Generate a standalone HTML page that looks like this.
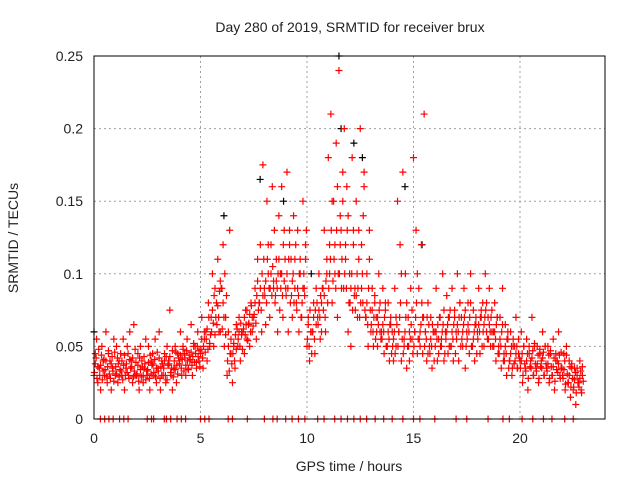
<!DOCTYPE html>
<html><head><meta charset="utf-8"><style>
body{margin:0;background:#fff}
svg{display:block;font-family:"Liberation Sans",sans-serif}
</style></head><body>
<svg id="c" width="640" height="480">
<text x="350" y="32" font-size="14" text-anchor="middle" fill="#222">Day 280 of 2019, SRMTID for receiver brux</text>
<text x="349" y="471" font-size="14" text-anchor="middle" fill="#222">GPS time / hours</text>
<text x="18" y="238" font-size="14" text-anchor="middle" fill="#222" transform="rotate(-90 18 238)">SRMTID / TECUs</text>
<g id="grid"></g><g id="ticks"></g><g id="marks"></g>
<rect x="94" y="56" width="511" height="363" fill="none" stroke="#000" stroke-width="1"/>
</svg>
<script>
const xTicks=[0,5,10,15,20];
const yTicks=[0,0.05,0.1,0.15,0.2,0.25];
const yTickLabels=["0","0.05","0.1","0.15","0.2","0.25"];
const hours=[0,0.25,0.5,0.75,1,1.25,1.5,1.75,2,2.25,2.5,2.75,3,3.25,3.5,3.75,4,4.25,4.5,4.75,5,5.25,5.5,5.75,6,6.25,6.5,6.75,7,7.25,7.5,7.75,8,8.25,8.5,8.75,9,9.25,9.5,9.75,10,10.25,10.5,10.75,11,11.25,11.5,11.75,12,12.25,12.5,12.75,13,13.25,13.5,13.75,14,14.25,14.5,14.75,15,15.25,15.5,15.75,16,16.25,16.5,16.75,17,17.25,17.5,17.75,18,18.25,18.5,18.75,19,19.25,19.5,19.75,20,20.25,20.5,20.75,21,21.25,21.5,21.75,22,22.25,22.5,22.75];
const redValues=[[.03,.045,.055,.025],[.035,.02,.05,.04],[.03,.06,.025,.045],[.04,.02,.035,.055],[.03,.05,.025,.04],[.045,.03,.055,.02],[.035,.05,.03,.06],[.04,.025,.065,.03],[.03,.045,.02,.05],[.04,.025,.035,.055],[.03,.05,.02,.04],[.045,.03,.055,.025],[.035,.06,.02,.04],[.03,.045,.025,.05],[.04,.075,.03,.02],[.035,.05,.025,.045],[.04,.06,.03,.05],[.045,.03,.055,.035],[.04,.065,.03,.05],[.05,.035,.06,.04],[.045,.07,.035,.055],[.06,.04,.08,.05],[.07,.1,.05,.09],[.08,.11,.06,.095],[.09,.12,.05,.07],[.03,.06,.13,.045],[.025,.05,.035,.065],[.05,.07,.04,.06],[.06,.045,.075,.055],[.065,.05,.08,.06],[.07,.09,.055,.11],[.08,.12,.06,.175],[.09,.065,.15,.1],[.07,.12,.16,.09],[.08,.11,.06,.14],[.1,.16,.07,.13],[.09,.17,.06,.12],[.11,.07,.14,.09],[.08,.13,.06,.1],[.07,.15,.09,.12],[.05,.07,.04,.06],[.06,.08,.045,.09],[.07,.1,.055,.08],[.09,.13,.06,.11],[.18,.12,.21,.08],[.15,.1,.19,.07],[.24,.14,.09,.17],[.2,.12,.16,.06],[.1,.05,.18,.13],[.09,.15,.07,.11],[.2,.12,.08,.16],[.07,.1,.05,.13],[.06,.09,.05,.08],[.07,.05,.1,.06],[.06,.09,.045,.075],[.05,.08,.04,.065],[.06,.04,.09,.05],[.15,.06,.12,.04],[.17,.05,.1,.035],[.07,.04,.09,.055],[.18,.06,.13,.045],[.09,.05,.12,.07],[.21,.06,.04,.08],[.05,.07,.035,.06],[.06,.09,.04,.055],[.07,.05,.1,.04],[.06,.085,.045,.07],[.05,.09,.04,.07],[.06,.1,.04,.08],[.07,.05,.09,.035],[.06,.08,.045,.1],[.05,.075,.04,.065],[.06,.09,.045,.07],[.08,.05,.1,.06],[.07,.09,.05,.06],[.06,.08,.04,.07],[.05,.07,.035,.09],[.045,.065,.03,.055],[.04,.06,.03,.05],[.05,.07,.035,.045],[.04,.06,.025,.05],[.035,.055,.02,.045],[.04,.07,.03,.05],[.035,.05,.025,.045],[.04,.06,.03,.05],[.035,.05,.025,.045],[.03,.055,.02,.04],[.04,.06,.03,.035],[.03,.045,.02,.05],[.025,.04,.015,.035],[.02,.035,.01,.03],[.025,.04,.02,.03]];
const redValues2=[[.032,.038,.042,.028,.036,.048],[.03,.037,.044,.027,.033,.041],[.034,.04,.029,.036,.047,.031],[.028,.038,.043,.033,.026,.046],[.036,.031,.042,.038,.029,.034],[.033,.04,.027,.037,.044,.03],[.038,.032,.045,.028,.041,.035],[.036,.042,.029,.033,.048,.039],[.031,.037,.026,.042,.034,.029],[.036,.03,.043,.038,.027,.033],[.034,.039,.028,.044,.031,.037],[.038,.032,.041,.029,.035,.046],[.033,.042,.028,.036,.03,.038],[.035,.04,.03,.043,.027,.037],[.038,.043,.032,.035,.047,.029],[.04,.034,.046,.037,.031,.042],[.038,.044,.035,.041,.048,.033],[.042,.037,.047,.04,.034,.044],[.041,.046,.037,.043,.052,.039],[.045,.039,.05,.043,.047,.036],[.048,.055,.042,.05,.06,.046],[.055,.062,.048,.07,.052,.058],[.06,.075,.066,.085,.058,.07],[.065,.078,.07,.088,.06,.09],[.062,.08,.07,.1,.058,.085],[.04,.05,.033,.045,.055,.038],[.045,.052,.04,.058,.048,.062],[.055,.06,.05,.066,.058,.048],[.062,.07,.058,.065,.075,.054],[.066,.072,.06,.078,.07,.064],[.072,.08,.066,.085,.095,.075],[.08,.09,.075,.1,.085,.11],[.085,.095,.08,.11,.12,.09],[.09,.1,.085,.105,.095,.13],[.085,.095,.09,.1,.11,.075],[.09,.1,.085,.12,.095,.11],[.085,.1,.09,.11,.13,.08],[.085,.095,.1,.08,.11,.12],[.075,.09,.085,.1,.11,.07],[.08,.09,.1,.085,.11,.13],[.055,.065,.05,.075,.06,.045],[.06,.07,.055,.075,.065,.08],[.065,.075,.07,.085,.06,.09],[.075,.085,.07,.095,.1,.08],[.09,.1,.11,.13,.15,.095],[.11,.12,.09,.13,.16,.1],[.1,.12,.13,.11,.15,.09],[.1,.11,.09,.13,.14,.08],[.08,.09,.1,.075,.12,.085],[.075,.085,.1,.09,.13,.07],[.08,.09,.1,.14,.17,.075],[.07,.08,.065,.09,.11,.075],[.065,.075,.06,.07,.085,.055],[.06,.07,.065,.075,.08,.055],[.055,.065,.06,.07,.08,.05],[.05,.06,.055,.065,.07,.045],[.05,.055,.06,.045,.07,.065],[.05,.06,.07,.08,.1,.055],[.045,.055,.06,.07,.08,.05],[.05,.06,.055,.065,.075,.045],[.05,.06,.07,.08,.1,.055],[.055,.06,.065,.08,.045,.07],[.05,.06,.055,.07,.045,.065],[.045,.055,.05,.065,.06,.04],[.05,.06,.055,.065,.045,.07],[.05,.055,.06,.065,.075,.045],[.055,.06,.065,.07,.05,.075],[.05,.06,.055,.065,.075,.045],[.055,.065,.06,.07,.08,.05],[.055,.06,.065,.07,.075,.05],[.055,.065,.06,.07,.08,.05],[.05,.055,.06,.065,.07,.045],[.055,.065,.06,.07,.075,.05],[.06,.065,.07,.075,.08,.055],[.055,.065,.06,.07,.075,.05],[.05,.06,.055,.065,.07,.045],[.045,.055,.05,.06,.065,.04],[.04,.05,.045,.055,.06,.035],[.04,.045,.05,.035,.055,.038],[.04,.045,.05,.035,.055,.042],[.035,.04,.045,.03,.05,.038],[.033,.04,.045,.028,.05,.036],[.035,.042,.047,.03,.052,.038],[.033,.038,.044,.028,.048,.036],[.035,.042,.046,.03,.05,.038],[.033,.038,.044,.028,.047,.036],[.03,.036,.042,.026,.045,.034],[.032,.038,.044,.028,.046,.035],[.028,.034,.04,.024,.044,.031],[.025,.03,.036,.022,.038,.028],[.022,.027,.032,.018,.035,.025],[.022,.028,.033,.018,.036,.026]];
const blackHours=[0,6.1,7.8,11.5,11.6,12.2,12.6,14.6,15.4,8.9,10.2];
const blackValues=[.06,.14,.165,.25,.2,.19,.18,.16,.12,.15,.1];
const zeroHours=[0.3,0.5,0.7,0.9,1.2,1.4,1.6,2.5,2.7,2.8,3.3,3.4,3.6,3.9,4.1,4.3,5.0,5.2,5.4,6.3,6.5,7.2,8.0,8.4,8.6,9.0,9.3,9.6,9.9,10.5,10.8,11.3,11.6,11.9,12.2,12.5,12.8,13.2,13.6,14.0,14.5,15.0,15.3,16.0,17.0,17.5,18.5,19.2,19.5,20.1,20.6,21.1,21.5,22.1,22.5];

const NS='http://www.w3.org/2000/svg';
const X=h=>94+h*21.3, Y=v=>419-v*1452;
function mk(t,a,p){const e=document.createElementNS(NS,t);for(const k in a)e.setAttribute(k,a[k]);p.appendChild(e);return e;}
const grid=document.getElementById('grid'),ticks=document.getElementById('ticks'),marks=document.getElementById('marks');
xTicks.forEach(t=>{
  if(t>0){const l=mk('line',{x1:X(t),x2:X(t),y1:56,y2:419,stroke:'#a0a0a0','stroke-dasharray':'2,3'},grid);
  
  }
  const tx=mk('text',{x:X(t),y:443,'font-size':14,'text-anchor':'middle',fill:'#222'},ticks);tx.textContent=t;
  
  
});
yTicks.forEach((t,i)=>{
  if(t>0){const l=mk('line',{x1:94,x2:605,y1:Y(t),y2:Y(t),stroke:'#a0a0a0','stroke-dasharray':'2,3'},grid);
  
  }
  const tx=mk('text',{x:83,y:Y(t)+5,'font-size':14,'text-anchor':'end',fill:'#222'},ticks);tx.textContent=yTickLabels[i];
  
  
});
function plus(x,y,c,name){
  const p=mk('path',{d:`M${x-3.5},${y}h7M${x},${y-3.5}v7`,stroke:c,'stroke-width':1.2,fill:'none'},marks);
  
  
}
blackHours.forEach((h,i)=>plus(X(h),Y(blackValues[i]),'#000','black-point'));
hours.forEach((h,i)=>{redValues[i].forEach((v,j)=>{plus(X(h+j*0.06),Y(v),'#ff0000','red-point');});});
hours.forEach((h,i)=>{redValues2[i].forEach((v,j)=>{plus(X(h+0.02+j*0.04),Y(v),'#ff0000','red-point');});});
zeroHours.forEach(h=>plus(X(h),Y(0),'#ff0000','zero-point'));
</script>
</body></html>
